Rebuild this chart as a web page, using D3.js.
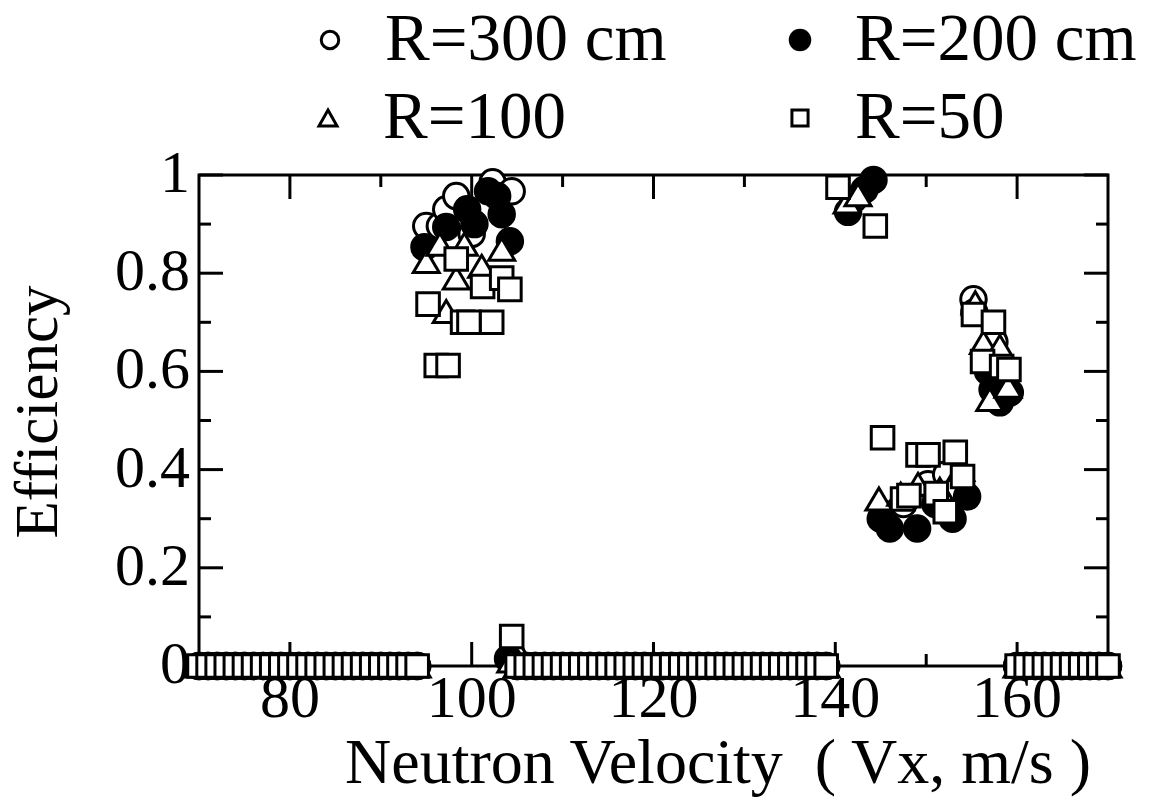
<!DOCTYPE html>
<html>
<head>
<meta charset="utf-8">
<script src="https://cdn.jsdelivr.net/npm/d3@7"></script>
<style>
  html, body { margin: 0; padding: 0; background: #fff; }
  svg text { font-family: "Liberation Serif", "Times New Roman", serif; fill: #000; }
</style>
</head>
<body>
<div id="chart"></div>
<script>
// data
const seriesNames = ['R=300 cm', 'R=200 cm', 'R=100', 'R=50'];
const xTicks = [80, 100, 120, 140, 160];
const yTicks = [0, 0.2, 0.4, 0.6, 0.8, 1];
const yTickLabels = ['0', '0.2', '0.4', '0.6', '0.8', '1'];

// velocities where every radius gives zero efficiency
const zeroVelocities = [
  70, 71, 72, 73, 74, 75, 76, 77, 78, 79, 80, 81, 82, 83, 84, 85, 86, 87, 88, 89, 90, 91, 92, 93, 94,
  105, 106, 107, 108, 109, 110, 111, 112, 113, 114, 115, 116, 117, 118, 119, 120, 121, 122,
  123, 124, 125, 126, 127, 128, 129, 130, 131, 132, 133, 134, 135, 136, 137, 138, 139,
  160, 161, 162, 163, 164, 165, 166, 167, 168, 169, 170
];

const r300 = [
  [95.0, 0.896], [96.5, 0.896], [97.2, 0.93], [98.3, 0.957], [100.0, 0.88],
  [102.3, 0.985], [104.4, 0.967], [104.5, 0.02],
  [142.0, 0.95], [145.3, 0.31], [147.5, 0.33], [150.2, 0.37], [152.2, 0.39], [153.5, 0.36],
  [155.2, 0.747], [157.5, 0.66], [159.0, 0.56]
];
const r200 = [
  [94.8, 0.853], [97.2, 0.894], [99.5, 0.93], [100.3, 0.9], [101.8, 0.967],
  [102.8, 0.957], [103.3, 0.92], [104.2, 0.865], [104.0, 0.015],
  [141.4, 0.925], [143.2, 0.97], [144.2, 0.99],
  [145.0, 0.30], [146.0, 0.28], [149.0, 0.28], [151.0, 0.33], [152.9, 0.30], [154.5, 0.345],
  [155.3, 0.72], [156.8, 0.60], [157.3, 0.563], [158.1, 0.537], [159.2, 0.557]
];
const r100 = [
  [95.0, 0.824], [96.5, 0.859], [97.2, 0.722], [98.3, 0.79], [99.2, 0.859],
  [101.1, 0.814], [103.3, 0.849], [104.3, 0.01],
  [141.3, 0.945], [142.5, 0.96],
  [144.8, 0.34], [147.2, 0.35], [149.1, 0.37], [151.5, 0.36], [153.8, 0.40],
  [155.4, 0.74], [156.3, 0.659], [157.0, 0.543], [158.1, 0.651], [159.0, 0.57]
];
const r50 = [
  [95.2, 0.737], [96.1, 0.612], [97.4, 0.612], [98.3, 0.829], [99.0, 0.70], [99.7, 0.70],
  [101.2, 0.773], [102.2, 0.70], [103.3, 0.79], [104.2, 0.767], [104.4, 0.06],
  [140.3, 0.975], [144.4, 0.896],
  [145.2, 0.465], [147.4, 0.34], [148.1, 0.347], [149.1, 0.43], [150.2, 0.43], [151.1, 0.351],
  [152.1, 0.314], [153.2, 0.435], [154.0, 0.386],
  [155.2, 0.716], [156.2, 0.62], [157.4, 0.70], [158.3, 0.61], [159.1, 0.604]
];

!(function () {
  'use strict';

  let svg, x, y, plot, series, symbolFor, triangle;

  svg = d3.select('#chart')
    .append('svg')
    .attr('width', 1153)
    .attr('height', 799);

  x = d3.scaleLinear().domain([70, 170]).range([199, 1108]);
  y = d3.scaleLinear().domain([0, 1]).range([666, 175]);

  // frame
  svg.append('rect')
    .attr('x', x(70)).attr('y', y(1))
    .attr('width', x(170) - x(70)).attr('height', y(0) - y(1))
    .attr('fill', 'none').attr('stroke', '#000').attr('stroke-width', 3);

  // ticks on all four sides, pointing inward
  const xMinor = [90, 110, 130, 150];
  const yMinor = [0.1, 0.3, 0.5, 0.7, 0.9];
  const tickG = svg.append('g').attr('stroke', '#000').attr('stroke-width', 3);

  function xTick(v, len) {
    tickG.append('line').attr('x1', x(v)).attr('x2', x(v)).attr('y1', y(0)).attr('y2', y(0) - len);
    tickG.append('line').attr('x1', x(v)).attr('x2', x(v)).attr('y1', y(1)).attr('y2', y(1) + len);
  }
  function yTick(v, len) {
    tickG.append('line').attr('y1', y(v)).attr('y2', y(v)).attr('x1', x(70)).attr('x2', x(70) + len);
    tickG.append('line').attr('y1', y(v)).attr('y2', y(v)).attr('x1', x(170)).attr('x2', x(170) - len);
  }
  xTicks.forEach(function (v) { xTick(v, 24); });
  xMinor.forEach(function (v) { xTick(v, 12); });
  yTicks.forEach(function (v) { yTick(v, 24); });
  yMinor.forEach(function (v) { yTick(v, 12); });

  // tick labels
  svg.selectAll('.xlab')
    .data(xTicks)
    .enter()
    .append('text')
    .attr('x', function (d) { return x(d); })
    .attr('y', 717)
    .attr('text-anchor', 'middle')
    .attr('font-size', 60)
    .text(function (d) { return d; });

  svg.selectAll('.ylab')
    .data(yTicks)
    .enter()
    .append('text')
    .attr('x', 190)
    .attr('y', function (d) { return y(d) + 17; })
    .attr('text-anchor', 'end')
    .attr('font-size', 60)
    .text(function (d, i) { return yTickLabels[i]; });

  // axis titles
  svg.append('text')
    .attr('transform', 'translate(57,412) rotate(-90)')
    .attr('text-anchor', 'middle')
    .attr('font-size', 61)
    .text('Efficiency');

  svg.append('text')
    .attr('x', 345).attr('y', 783)
    .attr('font-size', 64)
    .style('white-space', 'pre')
    .text('Neutron Velocity  ( Vx, m/s )');

  // triangle centred on its bounding box (w = half width, h = half height)
  triangle = function (w, h) {
    return 'M0,' + (-h) + 'L' + w + ',' + h + 'L' + (-w) + ',' + h + 'Z';
  };

  symbolFor = [
    { d: d3.symbol().type(d3.symbolCircle).size(510)(), fill: '#fff' },
    { d: d3.symbol().type(d3.symbolCircle).size(510)(), fill: '#000' },
    { d: triangle(13, 11), fill: '#fff' },
    { d: d3.symbol().type(d3.symbolSquare).size(510)(), fill: '#fff' }
  ];

  series = [r300, r200, r100, r50].map(function (pts) {
    return zeroVelocities.map(function (v) { return [v, 0]; }).concat(pts);
  });

  plot = svg.append('g');
  series.forEach(function (pts, i) {
    const s = symbolFor[i];
    plot.append('g')
      .selectAll('path')
      .data(pts)
      .enter()
      .append('path')
      .attr('transform', function (d) { return 'translate(' + x(d[0]) + ',' + y(d[1]) + ')'; })
      .attr('d', s.d)
      .attr('fill', s.fill)
      .attr('stroke', '#000')
      .attr('stroke-width', 3);
  });

  // legend
  const legendPos = [[330, 40], [800, 40], [328, 118], [800, 118]];
  const legendMarks = [
    d3.symbol().type(d3.symbolCircle).size(240)(),
    d3.symbol().type(d3.symbolCircle).size(300)(),
    triangle(9, 8),
    d3.symbol().type(d3.symbolSquare).size(260)()
  ];
  seriesNames.forEach(function (name, i) {
    svg.append('path')
      .attr('transform', 'translate(' + legendPos[i][0] + ',' + legendPos[i][1] + ')')
      .attr('d', legendMarks[i])
      .attr('fill', symbolFor[i].fill)
      .attr('stroke', '#000')
      .attr('stroke-width', 3);
    svg.append('text')
      .attr('x', legendPos[i][0] + 55)
      .attr('y', legendPos[i][1] + 20)
      .attr('font-size', 67)
      .text(name);
  });
}());
</script>
</body>
</html>
